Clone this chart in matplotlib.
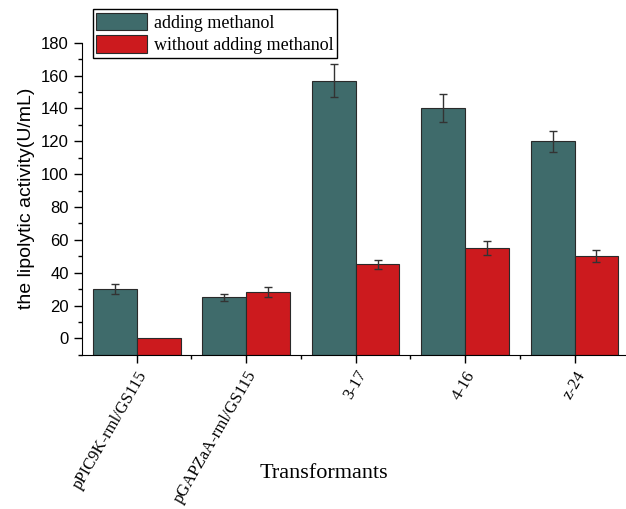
import numpy as np
import matplotlib.pyplot as plt
from matplotlib.ticker import MultipleLocator

# data
strains = ["pPIC9K-rml/GS115", "pGAPZaA-rml/GS115", "3-17", "4-16", "z-24"]
with_meoh = [30, 25, 157, 140, 120]
with_meoh_err = [3, 2, 10, 8.5, 6.5]
without_meoh = [0, 28, 45, 55, 50]
without_meoh_err = [0, 3, 3, 4, 3.5]

base = -10  # bars start at the bottom of the axis
x = np.arange(len(strains))
w = 0.4

fig = plt.figure(figsize=(6.26, 5.09), dpi=100)
ax = fig.add_axes([0.131, 0.303, 0.869, 0.613])

teal = "#3f6b6b"
red = "#cc1a1e"
ekw = dict(ecolor="#333333", elinewidth=1, capsize=3, capthick=1)

b1 = ax.bar(x - w / 2, np.array(with_meoh) - base, w, bottom=base, color=teal,
            edgecolor="#2a2a2a", linewidth=0.8, zorder=2)
ax.errorbar(x - w / 2, with_meoh, yerr=with_meoh_err, fmt="none", zorder=3, **ekw)
b2 = ax.bar(x + w / 2, np.array(without_meoh) - base, w, bottom=base, color=red,
            edgecolor="#2a2a2a", linewidth=0.8, zorder=2)
ax.errorbar(x[1:] + w / 2, without_meoh[1:], yerr=without_meoh_err[1:], fmt="none",
            zorder=3, **ekw)

ax.set_xlim(-0.5, 4.47)
ax.set_ylim(-10, 180)
ax.yaxis.set_major_locator(MultipleLocator(20))
ax.yaxis.set_minor_locator(MultipleLocator(10))
ax.set_xticks(x)
ax.set_xticks(x[:-1] + 0.5, minor=True)
ax.set_xticklabels(strains, rotation=60, ha="right", rotation_mode="anchor",
                   family="Liberation Serif", fontsize=12)
for lab in ax.get_yticklabels():
    lab.set_family("Liberation Sans")
    lab.set_fontsize(12)

ax.tick_params(axis="both", which="major", direction="out", length=6, width=1)
ax.tick_params(axis="both", which="minor", direction="out", length=3, width=1)
ax.spines["top"].set_visible(False)
ax.spines["right"].set_visible(False)

ax.set_ylabel("the lipolytic activity(U/mL)", family="Liberation Sans", fontsize=14)
ax.set_xlabel("Transformants", family="Liberation Serif", fontsize=16)
ax.xaxis.set_label_coords(0.445, -0.35)

fig.legend([b1, b2], ["adding methanol", "without adding methanol"],
           loc="upper left", bbox_to_anchor=(0.148, 0.982), frameon=True,
           fancybox=False, edgecolor="black", framealpha=1,
           prop={"family": "Liberation Serif", "size": 13},
           handlelength=2.8, handleheight=1.1, borderpad=0.2, labelspacing=0.2,
           handletextpad=0.4, borderaxespad=0)

fig.savefig("out.png", dpi=100)
